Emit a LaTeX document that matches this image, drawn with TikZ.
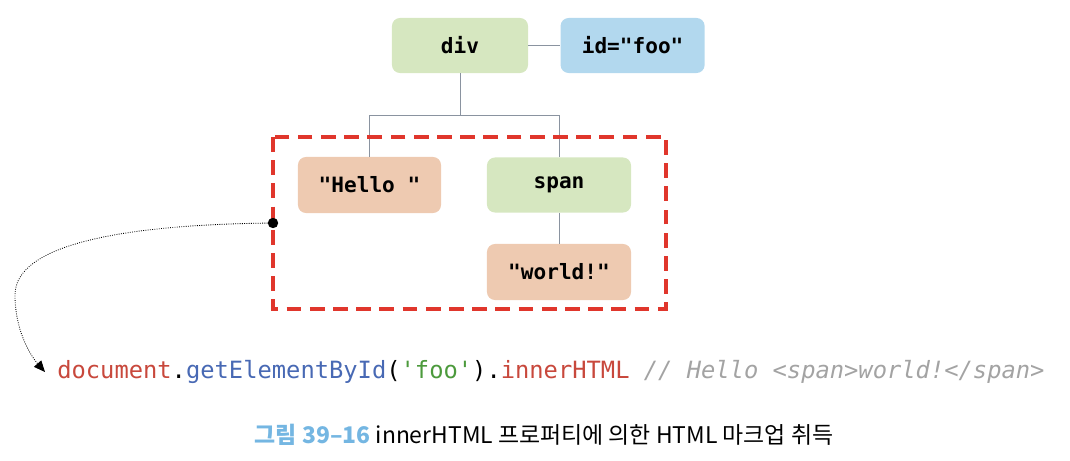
\documentclass[tikz,border=0pt]{standalone}
\usepackage{fontspec}
\setmonofont{DejaVu Sans Mono}
\newfontfamily\krfont{Noto Sans CJK KR}
\usepackage{xcolor}
\usetikzlibrary{arrows.meta}
\usetikzlibrary{positioning}
\definecolor{elemgreen}{HTML}{D6E7C0}
\definecolor{attrblue}{HTML}{B2D8EE}
\definecolor{textpeach}{HTML}{EECAB1}
\definecolor{boxred}{HTML}{E0362C}
\definecolor{linegray}{HTML}{8A93A0}
\definecolor{codered}{HTML}{C8483C}
\definecolor{codeblue}{HTML}{4869B4}
\definecolor{codegreen}{HTML}{4C9A3C}
\definecolor{codegray}{HTML}{A3A3A3}
\definecolor{capblue}{HTML}{74B6E2}
\tikzstyle{dombox} = [rectangle, rounded corners=0.2cm, minimum height=1.375cm, inner sep=0pt, text centered, font=\fontsize{15}{16}\selectfont\ttfamily\bfseries]
\tikzstyle{elem} = [dombox, fill=elemgreen, minimum width=3.6cm]
\tikzstyle{attr} = [dombox, fill=attrblue, minimum width=3.6cm]
\tikzstyle{txt} = [dombox, fill=textpeach, minimum width=3.6cm, minimum height=1.4cm]
\tikzstyle{link} = [linegray, line width=0.6pt]
\tikzstyle{pointer} = [densely dotted, line width=0.6pt, black, -{Triangle[length=2.8mm, width=2.4mm]}]

\begin{document}
\begin{tikzpicture}[x=0.025cm, y=-0.025cm, node distance=0.8cm]
    \useasboundingbox (0,0) rectangle (1070,460);
    \node (div) [elem, minimum width=3.4cm] at (460,45.5) {div};
    \node (idfoo) [attr, right = of div] {id="foo"};
    \node (hello) [txt, minimum width=3.575cm] at (369.5,185) {"Hello "};
    \node (span) [elem] at (559,185) {span};
    \node (world) [txt] at (559,272) {"world!"};
    \draw [link] (div) -- (idfoo);
    \draw [link] (div.south) -- ++(0,42) coordinate (fork) -| (hello.north);
    \draw [link] (fork) -| (span.north);
    \draw [link] (span) -- (world);
    \draw [boxred, line width=2.4pt, dash pattern=on 10.5pt off 6pt] (273,137) rectangle (666,309);
    \node (dot) [circle, fill=black, inner sep=0pt, minimum size=0.26cm] at (273,223) {};
    \node (code) [anchor=west, inner sep=0pt, font=\fontsize{16.9}{18}\selectfont\ttfamily] at (57,372)
        {\textcolor{codered}{document}.\textcolor{codeblue}{getElementById}(\textcolor{codegreen}{'foo'}).\textcolor{codered}{innerHTML} \textcolor{codegray}{\itshape // Hello <span>world!</span>}};
    \coordinate (tip) at (45,372);
    \draw [pointer] (dot) .. controls (120,225) and (15,245) .. (15,295) .. controls (15,330) and (30,355) .. (tip);
    \node (caption) [font=\fontsize{16.3}{18}\selectfont\krfont] at (544,435)
        {\textcolor{capblue}{\bfseries 그림 39–16} innerHTML 프로퍼티에 의한 HTML 마크업 취득};
\end{tikzpicture}
\end{document}
